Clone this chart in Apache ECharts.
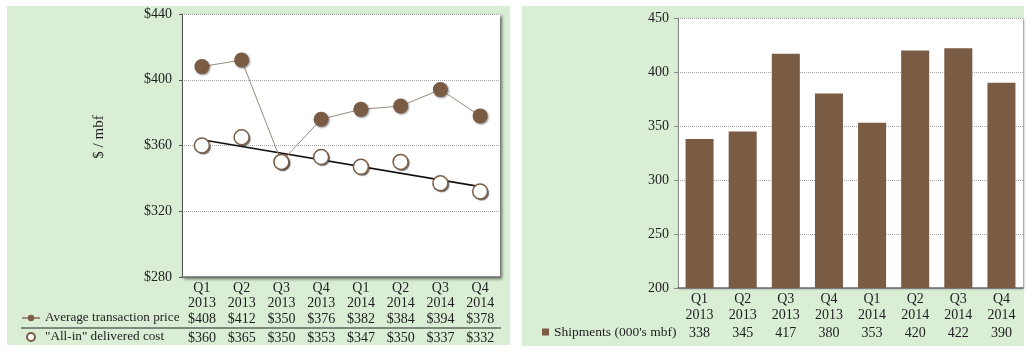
<!DOCTYPE html>
<html>
<head>
<meta charset="utf-8">
<script src="https://cdn.jsdelivr.net/npm/echarts@6/dist/echarts.min.js"></script>
<style>
html,body{margin:0;padding:0;background:#fff;}
#c{width:1032px;height:356px;}
</style>
</head>
<body>
<div id="c"></div>
<script>
var quarters = ['Q1','Q2','Q3','Q4','Q1','Q2','Q3','Q4'];
var years = ['2013','2013','2013','2013','2014','2014','2014','2014'];
var priceName = 'Average transaction price';
var costName = '"All-in" delivered cost';
var shipName = "Shipments (000's mbf)";
var yTitle = '$ / mbf';
var price = [408,412,350,376,382,384,394,378];
var cost = [360,365,350,353,347,350,337,332];
var shipments = [338,345,417,380,353,420,422,390];
var costTrend = [[0,363.5],[7,335]];
var leftTicks = {min:280, max:440, interval:40};
var rightTicks = {min:200, max:450, interval:50};

var FONT = '"Liberation Serif","Times New Roman",serif';
var FS = 14;
var LFS = 13.2;
var TXT = '#1e1e1e';
var BROWN = '#7a5c45';
var GREEN = '#daeed5';
var cats = quarters.map(function(q,i){return q+' '+years[i];});

function rs(lh){return {lineHeight:lh,fontFamily:FONT,fontSize:FS,color:TXT};}

var chart = echarts.init(document.getElementById('c'), null, {renderer:'canvas'});
var option = {
  animation:false,
  backgroundColor:'#ffffff',
  textStyle:{fontFamily:FONT, color:TXT, fontSize:FS},
  graphic:[
    {type:'rect', z:-10, shape:{x:7,y:6,width:503,height:339}, style:{fill:GREEN}},
    {type:'rect', z:-10, shape:{x:522,y:6,width:502,height:340}, style:{fill:GREEN}},
    {type:'line', z:10, shape:{x1:21,y1:328,x2:501,y2:328}, style:{stroke:'#222',lineWidth:1}},
    {type:'text', z:10, x:99, y:137, rotation:Math.PI/2,
     style:{text:yTitle, fill:TXT, font:'15px '+FONT, align:'center', verticalAlign:'middle'}}
  ],
  grid:[
    {left:182, top:14, width:318, height:263, show:true, backgroundColor:'#fff', borderWidth:0,
     shadowColor:'rgba(0,0,0,0.55)', shadowBlur:3, shadowOffsetX:2, shadowOffsetY:2},
    {left:678, top:18, width:345, height:270, show:true, backgroundColor:'#fff', borderWidth:0,
     shadowColor:'rgba(0,0,0,0.35)', shadowBlur:2, shadowOffsetX:1, shadowOffsetY:1}
  ],
  legend:[
    {orient:'vertical', left:21, top:310, padding:0, itemWidth:18, itemHeight:8, itemGap:3, itemTextGap:4,
     data:[priceName, costName],
     textStyle:{fontFamily:FONT, fontSize:LFS, color:TXT, lineHeight:16}},
    {orient:'horizontal', left:542, top:324.5, padding:0, itemWidth:7, itemHeight:7, itemTextGap:3,
     data:[{name:shipName, icon:'rect'}],
     textStyle:{fontFamily:FONT, fontSize:13.5, color:TXT, lineHeight:15}}
  ],
  xAxis:[
    {type:'category', gridIndex:0, data:cats, boundaryGap:true,
     axisLine:{lineStyle:{color:'#6b6b6b', width:1.5}},
     axisTick:{show:false},
     axisLabel:{interval:0, margin:4, color:TXT, fontFamily:FONT, fontSize:FS,
       formatter:function(v,i){
         return '{q|'+quarters[i]+'}\n{y|'+years[i]+'}\n{p|$'+price[i]+'}\n{c|$'+cost[i]+'}';
       },
       rich:{q:rs(15), y:rs(15), p:rs(17), c:rs(21)}}
    },
    {type:'category', gridIndex:1, data:cats, boundaryGap:true,
     axisLine:{lineStyle:{color:'#6b6b6b', width:1.5}},
     axisTick:{show:false},
     axisLabel:{interval:0, margin:4, color:TXT, fontFamily:FONT, fontSize:FS,
       formatter:function(v,i){
         return '{q|'+quarters[i]+'}\n{y|'+years[i]+'}\n{s|'+shipments[i]+'}';
       },
       rich:{q:rs(15), y:rs(16), s:rs(20)}}
    }
  ],
  yAxis:[
    {type:'value', gridIndex:0, min:leftTicks.min, max:leftTicks.max, interval:leftTicks.interval,
     axisLine:{show:true, lineStyle:{color:'#555', width:1}},
     axisTick:{show:true, length:3, lineStyle:{color:'#555'}},
     axisLabel:{margin:10, color:TXT, fontFamily:FONT, fontSize:FS, formatter:function(v){return '$'+v;}},
     splitLine:{show:true, lineStyle:{color:'#a8a8a8', type:'dotted', width:1}}},
    {type:'value', gridIndex:1, min:rightTicks.min, max:rightTicks.max, interval:rightTicks.interval,
     axisLine:{show:true, lineStyle:{color:'#888', width:1}},
     axisTick:{show:true, length:4, lineStyle:{color:'#888'}},
     axisLabel:{margin:9, color:TXT, fontFamily:FONT, fontSize:FS},
     splitLine:{show:true, lineStyle:{color:'#a8a8a8', type:'dotted', width:1}}}
  ],
  series:[
    {name:'trend', type:'line', xAxisIndex:0, yAxisIndex:0, data:costTrend, symbol:'none',
     lineStyle:{color:'#111', width:1.6}, z:2, silent:true},
    {name:priceName, type:'line', xAxisIndex:0, yAxisIndex:0, data:price,
     symbol:'circle', symbolSize:15,
     lineStyle:{color:'#9a8a7c', width:1},
     itemStyle:{color:BROWN, shadowColor:'rgba(0,0,0,0.45)', shadowBlur:2, shadowOffsetX:1, shadowOffsetY:1},
     z:4},
    {name:'costShadow', type:'scatter', xAxisIndex:0, yAxisIndex:0, data:cost,
     symbol:'circle', symbolSize:15, symbolOffset:[1.5,1.5], silent:true,
     itemStyle:{color:'rgba(60,60,60,0.6)', opacity:1, shadowColor:'rgba(0,0,0,0.4)', shadowBlur:2},
     z:3},
    {name:costName, type:'scatter', xAxisIndex:0, yAxisIndex:0, data:cost,
     symbol:'circle', symbolSize:15,
     itemStyle:{color:'#fff', opacity:1, borderColor:BROWN, borderWidth:1.5},
     z:5},
    {name:shipName, type:'bar', xAxisIndex:1, yAxisIndex:1, data:shipments,
     barCategoryGap:'35%', itemStyle:{color:BROWN}}
  ]
};
chart.setOption(option);
</script>
</body>
</html>
